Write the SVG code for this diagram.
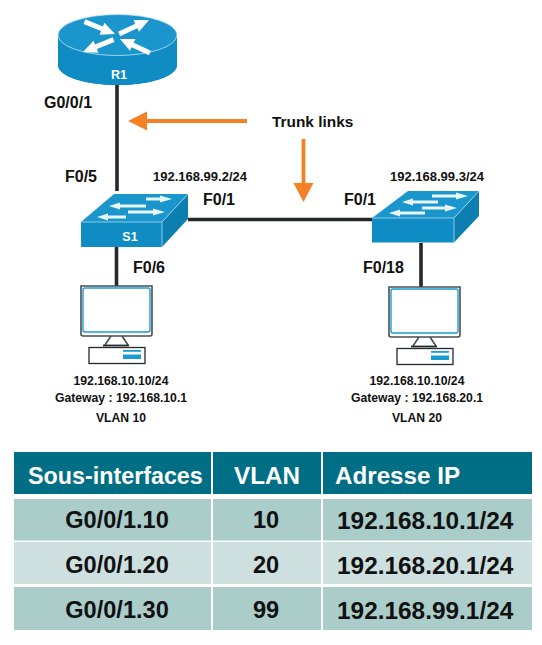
<svg xmlns="http://www.w3.org/2000/svg" width="542" height="645" viewBox="0 0 542 645">
<style>
text{font-family:"Liberation Sans",Arial,sans-serif;font-weight:bold;fill:#111}
.l{font-size:16px}
.s{font-size:12.200px}
.p{font-size:13px}
.m{text-anchor:middle}
.w{fill:#fff}
.h{font-size:23.300px;fill:#fff}
.h2{font-size:24.200px;fill:#fff}
.c{font-size:23.600px}
.i{font-size:24.400px}
.b{fill:#0f8cc4}
.t{fill:#1a96cd}
.d{fill:#0c7fb0}
.line{stroke:#24272c;stroke-width:3.600;fill:none}
.or{stroke:#f58025;stroke-width:3.800;fill:none}
.orh{fill:#f58025}
.mon{fill:#fff;stroke:#4a4d52;stroke-width:1.600}
.scr{fill:#fff;stroke:#1b9dd3;stroke-width:1.400}
.head{fill:#006f85}
.r1{fill:#abcdca}
.r2{fill:#cde0df}
.edge{stroke:#bfe3f2;stroke-width:.7;fill:none}
.sa{fill:#e8f5fb}
</style>
<defs>
<g id="pc">
<path class="mon" d="M81 286H152V334Q152 336 150 336H83Q81 336 81 334Z"/>
<rect class="scr" x="83" y="288" width="67" height="44" rx="2"/>
<path d="M111 336L105 345M122 336L128 345" stroke="#4a4d52" stroke-width="1.600" fill="none"/>
<path d="M103 345.500H129" stroke="#24272c" stroke-width="1.800"/>
<rect x="89" y="347.500" width="56" height="16" fill="#fff" stroke="#24272c" stroke-width="1.300"/>
<rect x="123" y="350" width="18" height="1.800" fill="#1b9dd3"/>
<rect x="123" y="354.500" width="18" height="4.500" fill="#1b9dd3"/>
</g>
<path id="ra" fill="#fff" d="M0 0L14 -6.500V-2.500H33V2.500H14V6.500Z"/>
</defs>
<g id="connectors">
<path class="line" d="M117 84V191"/>
<path class="line" d="M116.500 246V287"/>
<path class="line" d="M188 219.500H373"/>
<path class="line" d="M421 243V287"/>
<path class="or" d="M247 121H144"/>
<path class="orh" d="M128 121L147 111.500V130.500Z"/>
<path class="or" d="M303.500 139V186"/>
<path class="orh" d="M303.500 202L293.500 183H313.500Z"/>
</g>
<g id="R1">
<path class="d" d="M58 35V65A59.500 20 0 0 0 177 65V35Z"/>
<path class="b" d="M58 40V65A59.500 20 0 0 0 177 65V40Z"/>
<ellipse class="t" cx="117.500" cy="35" rx="59.500" ry="20.500" stroke="#bfe3f2" stroke-width=".8"/>
<use href="#ra" transform="translate(115 34) rotate(202)"/>
<use href="#ra" transform="translate(149 20) rotate(155)"/>
<use href="#ra" transform="translate(83 52) rotate(-22)"/>
<use href="#ra" transform="translate(120 39) rotate(25)"/>
<text class="m w" x="119" y="79" font-size="12.500">R1</text>
</g>
<g id="S1">
<path class="t" d="M81 222H162L188 194H114Z"/>
<rect class="b" x="81" y="222" width="81" height="25"/>
<path class="d" d="M162 222L188 194V219L162 247Z"/>
<path class="edge" d="M81 222H162L188 194M162 222V247"/>
<g class="sa">
<path d="M172 199L160 195.500V197.500H146V200.500H160V202.500Z"/>
<path d="M109 206L120 202.500V204.500H146V207.500H120V209.500Z"/>
<path d="M165 212L153 208.500V210.500H128V213.500H153V215.500Z"/>
<path d="M97 217L108 213.500V215.500H126V218.500H108V220.500Z"/>
</g>
<text class="m w" x="130" y="241" font-size="12.500">S1</text>
</g>
<g id="S2">
<path class="t" d="M372 218H454L479 191H408Z"/>
<rect class="b" x="372" y="218" width="82" height="24.500"/>
<path class="d" d="M454 218L479 191V216L454 242.500Z"/>
<path class="edge" d="M372 218H454L479 191M454 218V242.500"/>
<g class="sa">
<path d="M468 196L456 192.500V194.500H432V197.500H456V199.500Z"/>
<path d="M402 202L413 198.500V200.500H438V203.500H413V205.500Z"/>
<path d="M457 208L445 204.500V206.500H422V209.500H445V211.500Z"/>
<path d="M389 213L400 209.500V211.500H425V214.500H400V216.500Z"/>
</g>
</g>
<g id="PC1"><use href="#pc"/></g>
<g id="PC2"><use href="#pc" x="308" y="1"/></g>
<g id="labels">
<text class="l" x="44" y="108">G0/0/1</text>
<text class="l" x="65" y="182">F0/5</text>
<text class="p" x="153" y="181">192.168.99.2/24</text>
<text class="l" x="203" y="205">F0/1</text>
<text class="l" x="133" y="273">F0/6</text>
<text class="l" x="344" y="205">F0/1</text>
<text class="p" x="390" y="181">192.168.99.3/24</text>
<text class="l" x="363" y="273">F0/18</text>
<text x="272" y="127" font-size="15.400">Trunk links</text>
<text class="s m" x="121" y="385">192.168.10.10/24</text>
<text class="s m" x="121" y="402">Gateway : 192.168.10.1</text>
<text class="s m" x="121" y="422">VLAN 10</text>
<text class="s m" x="417" y="385">192.168.10.10/24</text>
<text class="s m" x="417" y="402">Gateway : 192.168.20.1</text>
<text class="s m" x="417" y="422">VLAN 20</text>
</g>
<g id="table">
<rect class="head" x="14" y="452" width="197" height="42"/>
<rect class="head" x="213" y="452" width="108" height="42"/>
<rect class="head" x="323" y="452" width="209" height="42"/>
<rect class="r1" x="14" y="499" width="197" height="41.500"/>
<rect class="r1" x="213" y="499" width="108" height="41.500"/>
<rect class="r1" x="323" y="499" width="209" height="41.500"/>
<rect class="r2" x="14" y="542" width="197" height="42"/>
<rect class="r2" x="213" y="542" width="108" height="42"/>
<rect class="r2" x="323" y="542" width="209" height="42"/>
<rect class="r1" x="14" y="587" width="197" height="43"/>
<rect class="r1" x="213" y="587" width="108" height="43"/>
<rect class="r1" x="323" y="587" width="209" height="43"/>
<text class="h" x="28" y="484">Sous-interfaces</text>
<text class="h2 m" x="267" y="484">VLAN</text>
<text class="h2" x="335" y="484">Adresse IP</text>
<text class="c m" x="117" y="528">G0/0/1.10</text>
<text class="c m" x="266" y="528">10</text>
<text class="i" x="337" y="529">192.168.10.1/24</text>
<text class="c m" x="117" y="573">G0/0/1.20</text>
<text class="c m" x="266" y="573">20</text>
<text class="i" x="337" y="574">192.168.20.1/24</text>
<text class="c m" x="117" y="618">G0/0/1.30</text>
<text class="c m" x="266" y="618">99</text>
<text class="i" x="337" y="619">192.168.99.1/24</text>
</g>
</svg>
